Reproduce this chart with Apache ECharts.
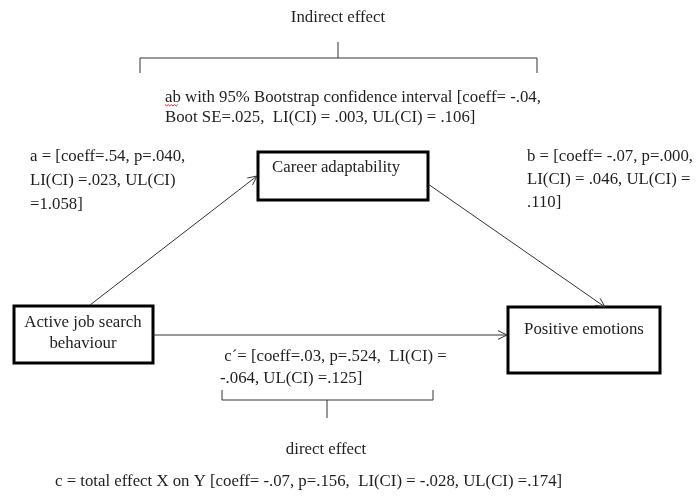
<!DOCTYPE html>
<html><head><meta charset="utf-8">
<script src="https://cdn.jsdelivr.net/npm/echarts@6/dist/echarts.min.js"></script>
<style>html,body{margin:0;padding:0;background:#fff}#c{width:697px;height:496px}</style>
</head><body><div id="c"></div>
<script>
// ---- content ----
var nodeNames = ['Active job search\nbehaviour', 'Career adaptability', 'Positive emotions'];
var pathA = ['a = [coeff=.54, p=.040,', 'LI(CI) =.023, UL(CI)', '=1.058]'];
var pathB = ['b = [coeff= -.07, p=.000,', 'LI(CI) = .046, UL(CI) =', '.110]'];
var pathC1 = [' c\u00B4= [coeff=.03, p=.524,  LI(CI) =', '-.064, UL(CI) =.125]'];
var indirectTitle = 'Indirect effect';
var indirectText = ['ab with 95% Bootstrap confidence interval [coeff= -.04,', 'Boot SE=.025,  LI(CI) = .003, UL(CI) = .106]'];
var directTitle = 'direct effect';
var totalText = 'c = total effect X on Y [coeff= -.07, p=.156,  LI(CI) = -.028, UL(CI) =.174]';

// ---- layout ----
var FONT = '16.8px "Liberation Serif", "Times New Roman", serif';
var TXT = '#1e1e1e';
var LINE = '#333';
var boxes = [
  {x: 14, y: 306, w: 139, h: 57, tx: 83, ty: 333, align: 'center'},
  {x: 258, y: 152, w: 170, h: 48, tx: 272, ty: 168, align: 'left'},
  {x: 508, y: 307, w: 152, h: 66, tx: 584, ty: 330, align: 'center'}
];
var arrows = [
  [[90, 305], [257, 176]],
  [[428, 184], [605, 307]],
  [[153, 335], [507, 335]]
];

var els = [];
function txt(s, x, y, align, lh) {
  els.push({type: 'text', z: 10, style: {text: s, x: x, y: y, font: FONT, fill: TXT,
    textAlign: align || 'left', textVerticalAlign: 'middle', align: align || 'left', verticalAlign: 'middle',
    lineHeight: lh || 22}});
}
function poly(pts, color, w) {
  els.push({type: 'polyline', shape: {points: pts}, style: {stroke: color || LINE, lineWidth: w || 1, fill: null}});
}
function line(p1, p2, color, w) {
  els.push({type: 'line', shape: {x1: p1[0], y1: p1[1], x2: p2[0], y2: p2[1]}, style: {stroke: color || LINE, lineWidth: w || 1}});
}

// boxes
boxes.forEach(function (b, i) {
  els.push({type: 'rect', shape: {x: b.x, y: b.y, width: b.w, height: b.h},
    style: {fill: '#fff', stroke: '#000', lineWidth: 3}});
  txt(nodeNames[i], b.tx, b.ty, b.align, 21);
});

// arrows with open heads
arrows.forEach(function (a) {
  var p1 = a[0], p2 = a[1];
  line(p1, p2);
  var ang = Math.atan2(p2[1] - p1[1], p2[0] - p1[0]);
  var L = 10, spread = 0.45;
  var h1 = [p2[0] - L * Math.cos(ang - spread), p2[1] - L * Math.sin(ang - spread)];
  var h2 = [p2[0] - L * Math.cos(ang + spread), p2[1] - L * Math.sin(ang + spread)];
  poly([h1, p2, h2]);
});

// indirect bracket
txt(indirectTitle, 338, 18, 'center');
line([338, 42], [338, 58]);
poly([[140, 73], [140, 58], [537, 58], [537, 73]]);
txt(indirectText.join('\n'), 165, 108, 'left', 20);
// red spelling squiggle under "ab"
var sq = [];
for (var k = 0; k <= 8; k++) sq.push([165 + k * 1.6, 104.5 + (k % 2 ? 1.5 : 0)]);
poly(sq, '#d03030', 1);

// path labels
txt(pathA.join('\n'), 30, 181, 'left', 24);
txt(pathB.join('\n'), 527, 180, 'left', 23);
txt(pathC1.join('\n'), 220, 368, 'left', 22);

// direct brace
poly([[222, 390], [222, 400], [433, 400], [433, 390]]);
line([327, 400], [327, 418]);
txt(directTitle, 326, 450, 'center');
txt(totalText, 55, 482, 'left');

var chart = echarts.init(document.getElementById('c'), null, {renderer: 'canvas'});
chart.setOption({backgroundColor: '#fff', animation: false, graphic: {elements: els}});
</script></body></html>
